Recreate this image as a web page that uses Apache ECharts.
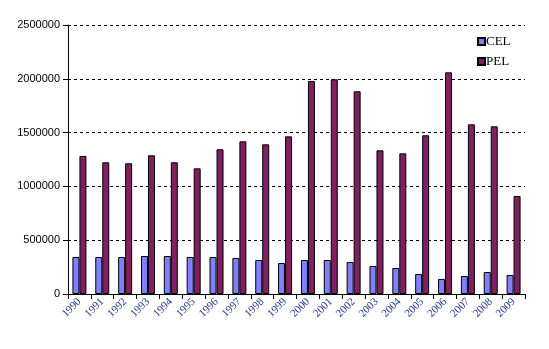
<!DOCTYPE html>
<html>
<head>
<meta charset="utf-8">
<script src="https://cdn.jsdelivr.net/npm/echarts@6/dist/echarts.min.js"></script>
<style>html,body{margin:0;padding:0;background:#fff;}#c{width:549px;height:349px;}</style>
</head>
<body>
<div id="c"></div>
<script>
var years = ['1990','1991','1992','1993','1994','1995','1996','1997','1998','1999','2000','2001','2002','2003','2004','2005','2006','2007','2008','2009'];
var celValues = [344000,344000,344000,353000,353000,344000,344000,335000,316000,288000,316000,316000,297000,260000,242000,186000,140000,167000,204000,177000];
var pelValues = [1283000,1224000,1215000,1289000,1224000,1168000,1345000,1419000,1391000,1465000,1980000,1995000,1884000,1335000,1307000,1475000,2060000,1577000,1558000,911000];
var yTicks = [0, 500000, 1000000, 1500000, 2000000, 2500000];

var chart = echarts.init(document.getElementById('c'));
chart.setOption({
  animation: false,
  backgroundColor: '#ffffff',
  grid: { left: 68, right: 24, top: 25, bottom: 55, containLabel: false },
  legend: {
    orient: 'vertical',
    left: 472,
    top: 30,
    icon: 'rect',
    itemWidth: 7,
    itemHeight: 7,
    itemGap: 7,
    textStyle: { fontFamily: 'Liberation Serif', fontSize: 13, color: '#000', padding: [0,0,0,-4] },
    data: ['CEL', 'PEL']
  },
  xAxis: {
    type: 'category',
    data: years,
    boundaryGap: true,
    axisLine: { lineStyle: { color: '#000', width: 1 } },
    axisTick: { show: true, length: 5, lineStyle: { color: '#000' } },
    axisLabel: { rotate: 45, interval: 0, margin: 6, fontFamily: 'Liberation Serif', fontSize: 11, color: '#1f3a8a' }
  },
  yAxis: {
    type: 'value',
    min: yTicks[0],
    max: yTicks[yTicks.length - 1],
    interval: yTicks[1] - yTicks[0],
    axisLine: { show: true, lineStyle: { color: '#000', width: 1 } },
    axisTick: { show: true, length: 5, lineStyle: { color: '#000' } },
    axisLabel: { margin: 8, fontFamily: 'Liberation Sans', fontSize: 11, color: '#000',
      formatter: function (v) { return String(v); } },
    splitLine: { show: true, lineStyle: { color: '#000', type: [3, 3], width: 1 } }
  },
  series: [
    { name: 'CEL', type: 'bar', data: celValues, barWidth: 7, barGap: '0%',
      itemStyle: { color: '#8080ff', borderColor: '#000', borderWidth: 1 } },
    { name: 'PEL', type: 'bar', data: pelValues, barWidth: 7, barGap: '0%',
      itemStyle: { color: '#802060', borderColor: '#000', borderWidth: 1 } }
  ]
});
</script>
</body>
</html>
